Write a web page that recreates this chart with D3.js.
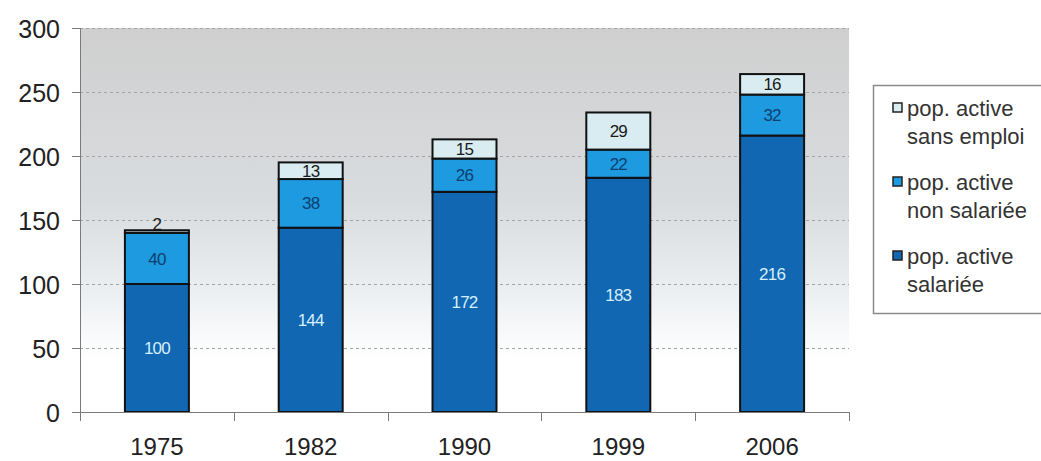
<!DOCTYPE html>
<html>
<head>
<meta charset="utf-8">
<script src="https://cdn.jsdelivr.net/npm/d3@7"></script>
<style>
  html, body { margin: 0; padding: 0; background: #ffffff; }
  svg { display: block; font-family: "Liberation Sans", Arial, sans-serif; }
</style>
</head>
<body>
<svg id="chart" width="1041" height="461"></svg>
<script>
// ---- data ----
const years = ["1975", "1982", "1990", "1999", "2006"];
const salariee = [100, 144, 172, 183, 216];
const nonSalariee = [40, 38, 26, 22, 32];
const sansEmploi = [2, 13, 15, 29, 16];
const yTicks = [0, 50, 100, 150, 200, 250, 300];
const seriesKeys = ["salariee", "nonSalariee", "sansEmploi"];
const legendLines = [
  ["pop. active", "sans emploi"],
  ["pop. active", "non salariée"],
  ["pop. active", "salariée"]
];
const legendKeys = ["sansEmploi", "nonSalariee", "salariee"];

(function () {
// ---- styles ----
const fills = { salariee: "#1267b2", nonSalariee: "#1d9ae0", sansEmploi: "#d8ecf1" };
const labelColors = { salariee: "#d4efff", nonSalariee: "#0d3f70", sansEmploi: "#1a1a1a" };

const svg = d3.select("#chart");
const pLeft = 80, pTop = 28, pRight = 849, pBottom = 412;

const x = d3.scaleBand().domain(years).range([pLeft, pRight]).paddingInner(0.584).paddingOuter(0.292);
const y = d3.scaleLinear().domain([0, 300]).range([pBottom, pTop]);

// gradient background
const defs = svg.append("defs");
const grad = defs.append("linearGradient").attr("id", "bg").attr("x1", 0).attr("y1", 0).attr("x2", 0).attr("y2", 1);
grad.append("stop").attr("offset", "0%").attr("stop-color", "#cfcfcf");
grad.append("stop").attr("offset", "45%").attr("stop-color", "#d9dcdf");
grad.append("stop").attr("offset", "70%").attr("stop-color", "#edf0f3");
grad.append("stop").attr("offset", "86%").attr("stop-color", "#ffffff");
grad.append("stop").attr("offset", "100%").attr("stop-color", "#ffffff");

svg.append("rect").attr("x", pLeft).attr("y", pTop).attr("width", pRight - pLeft).attr("height", pBottom - pTop)
  .attr("fill", "url(#bg)");

// gridlines
svg.append("g").selectAll("line").data(yTicks.filter(d => d > 0)).join("line")
  .attr("x1", pLeft).attr("x2", pRight)
  .attr("y1", d => y(d) + 0.5).attr("y2", d => y(d) + 0.5)
  .attr("stroke", "#a4a4a4").attr("stroke-width", 1).attr("stroke-dasharray", "3,3");

// stacked data
const rows = years.map((yr, i) => ({ year: yr, salariee: salariee[i], nonSalariee: nonSalariee[i], sansEmploi: sansEmploi[i] }));
const stack = d3.stack().keys(seriesKeys)(rows);

const gBars = svg.append("g");
stack.forEach(layer => {
  gBars.append("g").selectAll("rect").data(layer).join("rect")
    .attr("x", d => x(d.data.year))
    .attr("y", d => y(d[1]))
    .attr("width", x.bandwidth())
    .attr("height", d => y(d[0]) - y(d[1]))
    .attr("fill", fills[layer.key])
    .attr("stroke", "#111")
    .attr("stroke-width", 2);
});

// labels
stack.forEach(layer => {
  svg.append("g").selectAll("text").data(layer).join("text")
    .attr("x", d => x(d.data.year) + x.bandwidth() / 2)
    .attr("y", d => {
      const h = y(d[0]) - y(d[1]);
      if (h < 10) return y(d[1]) - 6;
      return (y(d[0]) + y(d[1])) / 2;
    })
    .attr("dy", "0.36em")
    .attr("text-anchor", "middle")
    .attr("font-size", 17)
    .attr("letter-spacing", -0.8)
    .attr("fill", labelColors[layer.key])
    .text(d => d.data[layer.key]);
});

// y axis
const yAxis = svg.append("g").attr("transform", `translate(${pLeft},0)`)
  .call(d3.axisLeft(y).tickValues(yTicks).tickSize(8).tickPadding(12).tickSizeOuter(0));
yAxis.select(".domain").attr("stroke", "#7a7a7a").attr("d", `M0.5,${pTop}V${pBottom + 8}`);
yAxis.selectAll(".tick line").attr("stroke", "#7a7a7a");
yAxis.selectAll(".tick text").attr("font-size", 25).attr("fill", "#222").attr("font-family", "Liberation Sans, Arial, sans-serif").attr("dy", "0.36em");

// x axis
const xAxis = svg.append("g").attr("transform", `translate(0,${pBottom})`)
  .call(d3.axisBottom(x).tickSize(0).tickPadding(0).tickSizeOuter(0));
xAxis.select(".domain").attr("stroke", "#7a7a7a").attr("d", `M${pLeft},0.5H${pRight}`);
xAxis.selectAll(".tick text").attr("font-size", 24).attr("fill", "#222")
  .attr("font-family", "Liberation Sans, Arial, sans-serif").attr("y", 43).attr("dy", 0);
// boundary ticks between categories
const boundaries = years.map(yr => x(yr) - (x.step() - x.bandwidth()) / 2).concat([pRight]);
xAxis.append("g").selectAll("line").data(boundaries).join("line")
  .attr("x1", d => Math.round(d) + 0.5).attr("x2", d => Math.round(d) + 0.5)
  .attr("y1", 0).attr("y2", 9).attr("stroke", "#7a7a7a");

// legend
const lg = svg.append("g");
lg.append("rect").attr("x", 873.5).attr("y", 85.5).attr("width", 180).attr("height", 228)
  .attr("fill", "#ffffff").attr("stroke", "#8a8a8a").attr("stroke-width", 1.5);
legendKeys.forEach((k, i) => {
  const base = 116 + i * 74;
  lg.append("rect").attr("x", 893).attr("y", base - 13).attr("width", 9).attr("height", 9)
    .attr("fill", fills[k]).attr("stroke", "#222").attr("stroke-width", 1.5);
  legendLines[i].forEach((t, j) => {
    lg.append("text").attr("x", 907).attr("y", base + j * 28)
      .attr("font-size", 22).attr("fill", "#333").text(t);
  });
});
})();
</script>
</body>
</html>
